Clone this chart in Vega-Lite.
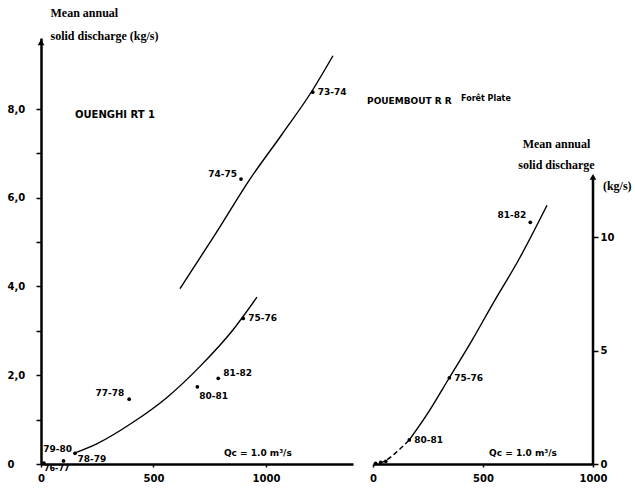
{
  "$schema": "https://vega.github.io/schema/vega-lite/v6.json",
  "background": "white",
  "padding": {"left": 7, "top": 6, "right": 0, "bottom": 0},
  "bounds": "flush",
  "spacing": 20,
  "config": {
    "view": {"stroke": null},
    "axis": {"grid": false, "domainColor": "black", "tickColor": "black", "labelColor": "black", "titleColor": "black", "labelFont": "DejaVu Sans", "labelFontWeight": "bold", "labelFontSize": 10, "labelOverlap": false, "labelFlush": false},
    "text": {"font": "DejaVu Sans", "fontWeight": "bold", "fontSize": 9, "color": "black"}
  },
  "datasets": {
    "ouenghi_points": [
      {"season": "73-74", "q": 1208, "qs": 8.38},
      {"season": "74-75", "q": 889, "qs": 6.42},
      {"season": "75-76", "q": 899, "qs": 3.28},
      {"season": "77-78", "q": 392, "qs": 1.46},
      {"season": "81-82", "q": 788, "qs": 1.93},
      {"season": "80-81", "q": 695, "qs": 1.74},
      {"season": "79-80", "q": 151, "qs": 0.24},
      {"season": "78-79", "q": 100, "qs": 0.07},
      {"season": "76-77", "q": 13, "qs": 0.02}
    ],
    "ouenghi_upper": [
      {"q": 618, "qs": 3.95}, {"q": 780, "qs": 5.22}, {"q": 929, "qs": 6.42},
      {"q": 1070, "qs": 7.42}, {"q": 1204, "qs": 8.4}, {"q": 1298, "qs": 9.2}
    ],
    "ouenghi_lower": [
      {"q": 151, "qs": 0.25}, {"q": 250, "qs": 0.46}, {"q": 409, "qs": 0.94},
      {"q": 560, "qs": 1.5}, {"q": 707, "qs": 2.2}, {"q": 853, "qs": 3.02}, {"q": 960, "qs": 3.76}
    ],
    "pouembout_points": [
      {"season": "81-82", "q": 715, "qs": 10.65},
      {"season": "75-76", "q": 347, "qs": 3.8},
      {"season": "80-81", "q": 165, "qs": 1.06},
      {"season": "", "q": 12, "qs": 0.03},
      {"season": "", "q": 35, "qs": 0.07},
      {"season": "", "q": 58, "qs": 0.12}
    ],
    "pouembout_low": [
      {"q": 32, "qs": 0.04}, {"q": 62, "qs": 0.18}, {"q": 110, "qs": 0.55}, {"q": 165, "qs": 1.06}
    ],
    "pouembout_curve": [
      {"q": 165, "qs": 1.06}, {"q": 250, "qs": 2.25}, {"q": 347, "qs": 3.8}, {"q": 450, "qs": 5.45},
      {"q": 547, "qs": 7.1}, {"q": 668, "qs": 9.1}, {"q": 791, "qs": 11.4}
    ]
  },
  "hconcat": [
    {
      "width": 312,
      "height": 426,
      "layer": [
        {
          "data": {"name": "ouenghi_upper"},
          "mark": {"type": "line", "interpolate": "monotone", "color": "black", "strokeWidth": 1.4},
          "encoding": {
            "x": {"field": "q", "type": "quantitative", "scale": {"domain": [0, 1387], "nice": false, "zero": false},
              "axis": {"values": [0, 500, 1000], "format": "d", "domainWidth": 2.5, "tickSize": 3, "tickWidth": 1.5, "labelPadding": 6, "title": null}},
            "y": {"field": "qs", "type": "quantitative", "scale": {"domain": [0, 9.6], "nice": false},
              "axis": {"values": [0, 1, 2, 3, 4, 5, 6, 7, 8],
                "labelExpr": "datum.value == 0 ? '0' : (datum.value % 2 == 0 ? replace(format(datum.value, '.1f'), '.', ',') : '')",
                "labelAlign": "left", "labelPadding": 29, "domainWidth": 2.5, "tickSize": 5, "tickWidth": 1.5,
                "title": ["Mean annual", "solid discharge (kg/s)"], "titleAngle": 0, "titleAlign": "left", "titleBaseline": "bottom",
                "titleX": 9, "titleY": -19, "titleLineHeight": 23, "titleFont": "Liberation Serif", "titleFontSize": 12, "titleFontWeight": "bold"}}
          }
        },
        {
          "data": {"name": "ouenghi_lower"},
          "mark": {"type": "line", "interpolate": "monotone", "color": "black", "strokeWidth": 1.4},
          "encoding": {"x": {"field": "q", "type": "quantitative"}, "y": {"field": "qs", "type": "quantitative"}}
        },
        {
          "data": {"name": "ouenghi_points"},
          "mark": {"type": "circle", "color": "black", "size": 14, "opacity": 1},
          "encoding": {"x": {"field": "q", "type": "quantitative"}, "y": {"field": "qs", "type": "quantitative"}}
        },
        {
          "data": {"name": "ouenghi_points"},
          "transform": [{"filter": "indexof(['73-74', '75-76'], datum.season) >= 0"}],
          "mark": {"type": "text", "align": "left", "baseline": "middle", "dx": 5},
          "encoding": {"x": {"field": "q", "type": "quantitative"}, "y": {"field": "qs", "type": "quantitative"}, "text": {"field": "season"}}
        },
        {
          "data": {"name": "ouenghi_points"},
          "transform": [{"filter": "indexof(['74-75'], datum.season) >= 0"}],
          "mark": {"type": "text", "align": "right", "baseline": "middle", "dx": -4, "dy": -5},
          "encoding": {"x": {"field": "q", "type": "quantitative"}, "y": {"field": "qs", "type": "quantitative"}, "text": {"field": "season"}}
        },
        {
          "data": {"name": "ouenghi_points"},
          "transform": [{"filter": "indexof(['77-78'], datum.season) >= 0"}],
          "mark": {"type": "text", "align": "right", "baseline": "middle", "dx": -5, "dy": -6},
          "encoding": {"x": {"field": "q", "type": "quantitative"}, "y": {"field": "qs", "type": "quantitative"}, "text": {"field": "season"}}
        },
        {
          "data": {"name": "ouenghi_points"},
          "transform": [{"filter": "indexof(['81-82'], datum.season) >= 0"}],
          "mark": {"type": "text", "align": "left", "baseline": "middle", "dx": 5, "dy": -5},
          "encoding": {"x": {"field": "q", "type": "quantitative"}, "y": {"field": "qs", "type": "quantitative"}, "text": {"field": "season"}}
        },
        {
          "data": {"name": "ouenghi_points"},
          "transform": [{"filter": "indexof(['80-81'], datum.season) >= 0"}],
          "mark": {"type": "text", "align": "left", "baseline": "middle", "dx": 2, "dy": 9},
          "encoding": {"x": {"field": "q", "type": "quantitative"}, "y": {"field": "qs", "type": "quantitative"}, "text": {"field": "season"}}
        },
        {
          "data": {"name": "ouenghi_points"},
          "transform": [{"filter": "indexof(['79-80'], datum.season) >= 0"}],
          "mark": {"type": "text", "align": "right", "baseline": "middle", "dx": -3, "dy": -4},
          "encoding": {"x": {"field": "q", "type": "quantitative"}, "y": {"field": "qs", "type": "quantitative"}, "text": {"field": "season"}}
        },
        {
          "data": {"name": "ouenghi_points"},
          "transform": [{"filter": "indexof(['78-79'], datum.season) >= 0"}],
          "mark": {"type": "text", "align": "left", "baseline": "middle", "dx": 14, "dy": -2},
          "encoding": {"x": {"field": "q", "type": "quantitative"}, "y": {"field": "qs", "type": "quantitative"}, "text": {"field": "season"}}
        },
        {
          "data": {"name": "ouenghi_points"},
          "transform": [{"filter": "indexof(['76-77'], datum.season) >= 0"}],
          "mark": {"type": "text", "align": "left", "baseline": "middle", "dx": 0, "dy": 6, "fontSize": 8},
          "encoding": {"x": {"field": "q", "type": "quantitative"}, "y": {"field": "qs", "type": "quantitative"}, "text": {"field": "season"}}
        },
        {
          "data": {"values": [{}]},
          "mark": {"type": "point", "shape": "triangle-up", "filled": true, "color": "black", "size": 45, "opacity": 1},
          "encoding": {"x": {"datum": 0}, "y": {"datum": 9.5}}
        },
        {
          "data": {"values": [{}]},
          "mark": {"type": "text", "align": "left", "baseline": "middle", "fontSize": 10},
          "encoding": {"x": {"datum": 151}, "y": {"datum": 7.86}, "text": {"value": "OUENGHI  RT  1"}}
        },
        {
          "data": {"values": [{}]},
          "mark": {"type": "text", "align": "center", "baseline": "middle", "fontSize": 9},
          "encoding": {"x": {"datum": 964}, "y": {"datum": 0.25}, "text": {"value": "Qc = 1.0 m³/s"}}
        }
      ]
    },
    {
      "width": 220,
      "height": 426,
      "layer": [
        {
          "data": {"name": "pouembout_curve"},
          "mark": {"type": "line", "interpolate": "monotone", "color": "black", "strokeWidth": 1.4},
          "encoding": {
            "x": {"field": "q", "type": "quantitative", "scale": {"domain": [0, 1000], "nice": false, "zero": false},
              "axis": {"values": [0, 500, 1000], "format": "d", "domainWidth": 2.5, "tickSize": 3, "tickWidth": 1.5, "labelPadding": 6, "title": null}},
            "y": {"field": "qs", "type": "quantitative", "scale": {"domain": [0, 18.77], "nice": false},
              "axis": {"orient": "right", "values": [0, 5, 10], "domain": false, "tickSize": 5, "tickWidth": 1.5, "labelPadding": 2,
                "title": ["Mean annual", "solid discharge"], "titleAngle": 0, "titleAlign": "center", "titleBaseline": "bottom",
                "titleX": -37, "titleY": 112, "titleLineHeight": 21, "titleFont": "Liberation Serif", "titleFontSize": 12, "titleFontWeight": "bold"}}
          }
        },
        {
          "data": {"name": "pouembout_low"},
          "mark": {"type": "line", "interpolate": "monotone", "color": "black", "strokeWidth": 1.4, "strokeDash": [5, 3]},
          "encoding": {"x": {"field": "q", "type": "quantitative"}, "y": {"field": "qs", "type": "quantitative"}}
        },
        {
          "data": {"name": "pouembout_points"},
          "mark": {"type": "circle", "color": "black", "size": 14, "opacity": 1},
          "encoding": {"x": {"field": "q", "type": "quantitative"}, "y": {"field": "qs", "type": "quantitative"}}
        },
        {
          "data": {"name": "pouembout_points"},
          "transform": [{"filter": "indexof(['75-76', '80-81'], datum.season) >= 0"}],
          "mark": {"type": "text", "align": "left", "baseline": "middle", "dx": 5},
          "encoding": {"x": {"field": "q", "type": "quantitative"}, "y": {"field": "qs", "type": "quantitative"}, "text": {"field": "season"}}
        },
        {
          "data": {"name": "pouembout_points"},
          "transform": [{"filter": "indexof(['81-82'], datum.season) >= 0"}],
          "mark": {"type": "text", "align": "right", "baseline": "middle", "dx": -4, "dy": -7},
          "encoding": {"x": {"field": "q", "type": "quantitative"}, "y": {"field": "qs", "type": "quantitative"}, "text": {"field": "season"}}
        },
        {
          "data": {"values": [{}]},
          "mark": {"type": "rule", "color": "black", "strokeWidth": 2.5},
          "encoding": {"x": {"datum": 1000}, "y": {"datum": 0}, "y2": {"datum": 12.6}}
        },
        {
          "data": {"values": [{}]},
          "mark": {"type": "point", "shape": "triangle-up", "filled": true, "color": "black", "size": 45, "opacity": 1},
          "encoding": {"x": {"datum": 1000}, "y": {"datum": 12.65}}
        },
        {
          "data": {"values": [{}]},
          "mark": {"type": "text", "align": "left", "baseline": "middle", "font": "Liberation Serif", "fontSize": 12},
          "encoding": {"x": {"datum": 1045}, "y": {"datum": 12.25}, "text": {"value": "(kg/s)"}}
        },
        {
          "data": {"values": [{}]},
          "mark": {"type": "text", "align": "left", "baseline": "middle", "fontSize": 9},
          "encoding": {"x": {"datum": -27}, "y": {"datum": 16.0}, "text": {"value": "POUEMBOUT R R"}}
        },
        {
          "data": {"values": [{}]},
          "mark": {"type": "text", "align": "left", "baseline": "middle", "fontSize": 8},
          "encoding": {"x": {"datum": 400}, "y": {"datum": 16.1}, "text": {"value": "Forêt Plate"}}
        },
        {
          "data": {"values": [{}]},
          "mark": {"type": "text", "align": "center", "baseline": "middle", "fontSize": 9},
          "encoding": {"x": {"datum": 682}, "y": {"datum": 0.48}, "text": {"value": "Qc = 1.0 m³/s"}}
        }
      ]
    }
  ]
}
